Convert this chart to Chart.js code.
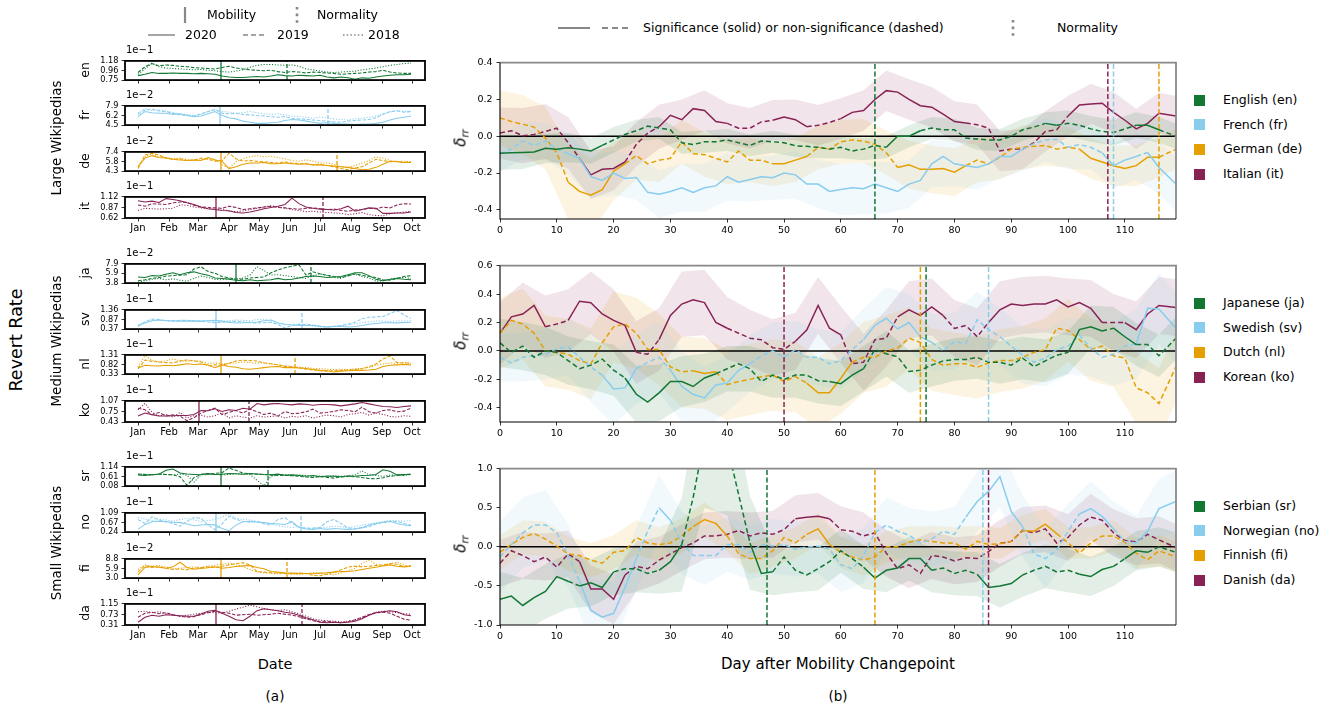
<!DOCTYPE html>
<html><head><meta charset="utf-8">
<script src="https://cdn.jsdelivr.net/npm/chart.js@4.4.1/dist/chart.umd.min.js"></script>
<style>
body{margin:0;width:1331px;height:710px;background:#fff;position:relative;overflow:hidden;font-family:"DejaVu Sans",sans-serif;color:#000}
.box{position:absolute}
.t{position:absolute;white-space:nowrap;line-height:1}
.c{transform:translate(-50%,-50%)}
.r{transform:translate(-50%,-50%) rotate(-90deg)}
.m{transform:translateY(-50%)}
.sq{position:absolute;width:11px;height:11px}
</style></head><body>
<script>
// ---------------- DATA ----------------
const leftDays=[0,7,14,21,28,35,42,49,56,63,70,77,84,91,98,105,112,119,126,133,140,147,154,161,168,175,182,189,196,203,210,217,224,231,238,245,252,259,266,273];
const monthTickDays=[0,31,60,91,121,152,182,213,244,274];
const monthLabels=['Jan','Feb','Mar','Apr','May','Jun','Jul','Aug','Sep','Oct'];

const en2020=[0.85,0.88,0.92,0.90,0.90,0.91,0.90,0.90,0.89,0.90,0.89,0.88,0.84,0.82,0.81,0.81,0.82,0.83,0.82,0.84,0.87,0.85,0.84,0.86,0.85,0.84,0.86,0.82,0.80,0.82,0.80,0.77,0.80,0.79,0.82,0.84,0.86,0.87,0.87,0.88];
const en2019=[0.92,1.05,1.12,1.07,1.09,1.08,1.06,1.05,1.03,1.02,1.01,1.00,1.03,1.06,1.02,1.00,0.98,0.97,0.96,0.97,0.94,0.92,0.94,0.93,0.91,0.93,0.92,0.91,0.90,0.88,0.89,0.90,0.91,0.93,0.94,0.97,0.93,0.91,0.90,0.90];
const en2018=[0.88,1.00,1.13,1.05,1.02,1.01,1.00,0.99,0.98,0.99,0.97,0.96,0.94,0.93,0.95,0.98,1.04,1.08,1.10,1.10,1.09,1.08,1.09,1.06,1.00,0.98,0.95,0.93,0.92,0.93,0.94,0.95,0.98,1.00,1.02,1.05,1.08,1.10,1.12,1.13];
const fr2020=[6.0,6.9,6.7,6.6,6.6,6.4,6.5,6.2,6.0,6.1,6.5,6.9,6.2,5.8,5.6,5.2,5.0,4.8,4.8,4.9,5.0,5.3,5.5,5.4,5.2,5.0,4.8,4.9,4.8,4.7,4.7,4.6,4.7,4.7,4.8,5.0,5.4,5.7,5.9,6.1];
const fr2019=[6.4,7.2,7.3,7.0,6.9,6.6,6.3,6.2,6.1,6.5,6.9,7.3,6.6,6.5,6.6,6.4,6.3,6.2,6.1,6.0,5.9,6.0,5.7,5.6,5.5,5.4,5.3,5.2,5.1,5.0,5.2,5.3,5.4,5.5,5.8,6.4,6.9,7.0,6.8,6.9];
const fr2018=[6.7,7.4,7.1,7.2,7.0,6.7,6.5,6.4,6.2,6.4,6.9,7.2,6.9,6.8,6.6,6.7,6.9,6.7,6.5,6.4,6.5,6.3,6.1,6.0,5.9,5.7,5.9,5.8,5.6,5.5,5.4,5.6,5.7,5.9,6.1,6.5,6.8,7.1,6.9,7.0];
const de2020=[5.0,6.4,6.8,6.5,6.4,6.2,6.1,6.0,6.1,6.0,6.5,6.1,5.9,4.7,5.0,5.4,5.6,5.6,5.7,5.5,5.5,5.6,5.5,5.4,5.5,5.3,5.3,5.2,5.1,5.0,4.9,4.7,4.5,4.6,4.9,5.4,5.9,5.8,5.7,5.7];
const de2019=[4.7,6.9,7.2,6.9,6.4,6.2,6.3,6.0,6.1,6.4,6.2,5.9,6.0,7.2,6.3,5.9,6.0,5.9,5.8,5.7,5.6,5.8,5.6,5.5,5.5,5.3,5.4,5.2,5.0,4.7,4.5,4.8,5.0,5.6,6.2,6.0,5.8,5.9,5.7,5.8];
const de2018=[5.1,6.6,7.1,6.6,6.5,6.3,6.4,6.2,6.0,6.1,6.3,6.2,5.3,4.8,5.8,6.3,6.6,6.8,6.6,6.7,6.5,6.3,6.0,5.9,6.1,5.9,5.6,5.6,5.4,5.0,4.9,5.2,5.6,6.0,6.6,6.4,6.0,5.8,5.9,5.8];
const it2020=[1.03,1.00,1.02,0.99,1.08,1.06,1.03,0.98,0.94,0.88,0.84,0.82,0.80,0.79,0.75,0.74,0.76,0.80,0.84,0.87,0.90,0.94,1.09,0.96,0.88,0.85,0.83,0.82,0.81,0.84,0.90,0.78,0.82,0.86,0.85,0.73,0.73,0.74,0.74,0.76];
const it2019=[0.93,0.90,0.96,0.95,0.94,0.98,1.00,0.99,0.92,0.88,0.87,0.86,0.85,0.90,0.87,0.82,0.84,0.86,0.88,0.90,0.87,0.86,0.84,0.83,0.85,0.86,0.84,0.82,0.83,0.80,0.78,0.81,0.82,0.85,0.84,0.88,0.86,0.93,0.96,0.95];
const it2018=[0.80,0.85,0.84,0.83,0.84,0.85,0.93,0.92,0.88,0.86,0.84,0.82,0.84,0.78,0.77,0.79,0.82,0.85,0.88,0.91,0.88,0.85,0.82,0.80,0.77,0.78,0.76,0.75,0.74,0.73,0.70,0.72,0.75,0.70,0.68,0.67,0.72,0.74,0.76,0.78];
const ja2020=[5.1,5.0,5.4,5.3,5.7,6.0,5.6,6.0,6.2,5.8,5.5,4.9,4.8,4.6,4.4,4.3,4.5,4.3,4.4,4.5,4.8,4.5,4.6,4.9,5.2,5.3,5.2,5.0,5.1,5.2,5.6,6.0,6.0,5.4,4.6,4.3,4.6,4.8,4.6,4.5];
const ja2019=[4.3,4.5,4.8,5.0,5.3,5.4,5.5,5.6,6.8,7.3,6.3,5.9,5.2,4.9,4.7,4.6,4.9,5.0,5.1,6.0,6.6,7.1,7.4,7.7,5.5,6.2,5.8,5.5,5.2,5.0,5.3,5.8,5.5,5.2,5.0,4.5,4.4,4.8,5.2,5.4];
const ja2018=[4.0,4.3,4.6,4.8,4.5,4.7,4.4,4.2,4.8,5.3,5.0,4.6,4.5,4.8,4.6,4.9,5.5,7.3,6.5,5.5,5.6,5.4,5.2,5.0,4.8,5.3,5.8,5.4,5.0,4.8,5.4,5.7,5.2,4.9,4.2,4.3,4.6,4.9,5.0,4.8];
const sv2020=[0.57,0.68,0.80,0.84,0.81,0.80,0.78,0.78,0.79,0.78,0.80,0.82,0.78,0.72,0.68,0.70,0.72,0.74,0.80,0.84,0.70,0.62,0.58,0.56,0.55,0.56,0.52,0.48,0.50,0.52,0.48,0.50,0.55,0.62,0.66,0.70,0.70,0.69,0.71,0.72];
const sv2019=[0.50,0.75,0.89,0.86,0.80,0.78,0.82,0.82,0.80,0.78,0.74,0.70,0.72,0.74,0.78,0.74,0.70,0.68,0.70,0.72,0.60,0.43,0.56,0.60,0.62,0.58,0.52,0.48,0.52,0.56,0.62,0.72,0.90,0.98,1.00,1.02,1.18,1.32,1.10,0.92];
const sv2018=[0.56,0.72,0.80,0.82,0.80,0.78,0.80,0.82,0.80,0.78,0.82,0.80,0.78,0.80,0.84,0.82,0.80,0.86,0.88,0.80,0.65,0.60,0.62,0.64,0.58,0.52,0.48,0.46,0.50,0.55,0.58,0.64,0.70,0.74,0.80,0.78,0.76,0.80,0.78,0.80];
const nl2020=[0.64,0.78,0.76,0.74,0.78,0.76,0.80,0.86,0.82,0.85,0.80,0.66,0.80,0.72,0.68,0.60,0.58,0.62,0.66,0.70,0.72,0.66,0.66,0.64,0.62,0.56,0.52,0.50,0.44,0.48,0.50,0.52,0.52,0.54,0.58,0.72,0.78,0.80,0.82,0.80];
const nl2019=[0.60,1.05,0.98,0.95,0.92,0.90,1.00,1.05,1.00,0.95,0.75,0.80,0.78,0.88,1.00,1.04,1.02,1.00,0.90,0.86,0.80,0.72,0.70,0.66,0.58,0.54,0.50,0.48,0.50,0.52,0.54,0.56,0.60,0.70,0.85,1.10,1.25,0.92,0.90,0.88];
const nl2018=[0.70,1.28,1.05,0.95,1.00,1.10,1.02,0.98,1.02,0.98,0.88,0.90,0.86,0.88,0.90,0.95,0.92,0.88,0.92,0.85,0.80,0.76,0.72,0.68,0.66,0.62,0.60,0.58,0.56,0.58,0.56,0.60,0.62,0.68,0.78,0.85,0.90,0.88,0.92,0.90];
const ko2020=[0.61,0.70,0.65,0.61,0.61,0.62,0.63,0.63,0.66,0.78,0.77,0.83,0.75,0.80,0.78,0.85,0.82,0.99,0.95,0.98,0.99,0.97,0.95,0.98,0.97,0.94,0.96,0.96,0.95,0.92,0.95,0.98,1.02,0.98,0.94,0.90,0.89,0.87,0.90,0.92];
const ko2019=[0.85,0.80,0.65,0.72,0.61,0.65,0.61,0.47,0.56,0.70,0.78,0.85,0.65,0.72,0.78,0.70,0.82,0.74,0.66,0.70,0.61,0.75,0.68,0.70,0.74,0.82,0.70,0.72,0.75,0.80,0.78,0.74,0.88,0.74,0.70,0.78,0.80,0.74,0.76,0.85];
const ko2018=[0.80,1.00,0.72,0.62,0.66,0.58,0.72,0.55,0.62,0.64,0.58,0.62,0.72,0.55,0.62,0.58,0.55,0.62,0.58,0.60,0.62,0.55,0.60,0.58,0.62,0.55,0.60,0.64,0.62,0.58,0.66,0.68,0.72,0.64,0.70,0.66,0.60,0.58,0.62,0.60];
const sr2020=[0.70,0.67,0.72,0.74,0.95,1.02,0.80,0.75,0.72,0.74,0.77,0.72,0.74,0.78,0.76,0.74,0.78,0.75,0.72,0.70,0.74,0.68,0.70,0.66,0.62,0.66,0.60,0.64,0.62,0.60,0.64,0.62,0.66,0.68,0.72,0.98,0.90,0.70,0.72,0.74];
const sr2019=[0.75,0.72,0.70,0.74,0.72,0.70,0.60,0.12,0.55,0.72,0.74,0.78,0.82,1.08,0.95,0.80,0.76,0.74,0.72,0.70,0.66,0.68,0.65,0.62,0.58,0.55,0.60,0.56,0.52,0.58,0.62,0.60,0.55,0.50,0.48,0.54,0.62,0.66,0.70,0.74];
const sr2018=[0.72,0.74,0.70,0.76,0.72,0.70,0.74,0.68,0.30,0.70,0.72,0.74,0.70,0.72,0.76,0.74,0.72,0.40,0.10,0.62,0.70,0.72,0.68,0.70,0.66,0.62,0.64,0.60,0.66,0.62,0.64,0.70,0.92,0.70,0.66,0.62,0.68,0.70,0.66,0.72];
const no2020=[0.36,0.58,0.70,0.72,0.70,0.68,0.66,0.60,0.52,0.55,0.58,0.56,0.40,0.30,0.55,0.70,0.72,0.68,0.66,0.62,0.60,0.58,0.70,0.45,0.38,0.36,0.40,0.36,0.40,0.38,0.36,0.38,0.42,0.55,0.62,0.68,0.72,0.62,0.55,0.52];
const no2019=[0.80,0.62,0.92,0.78,0.70,0.62,0.50,0.72,0.88,0.85,0.55,0.35,0.60,0.95,0.80,0.72,0.68,0.72,0.60,0.55,0.80,0.88,0.62,0.48,0.40,0.42,0.45,0.70,0.80,0.62,0.42,0.40,0.45,0.48,0.60,0.66,0.70,0.72,0.62,0.55];
const no2018=[0.90,0.82,0.75,0.80,0.78,0.72,0.80,0.84,0.78,0.70,0.75,0.80,0.90,1.05,0.85,0.80,0.78,0.72,0.65,0.60,0.52,0.48,0.45,0.48,0.42,0.40,0.44,0.46,0.50,0.48,0.44,0.48,0.55,0.60,0.66,0.70,0.76,0.74,0.72,0.74];
const fi2020=[4.0,6.2,6.5,6.3,6.0,6.4,7.8,6.2,5.7,5.9,6.1,6.4,6.0,6.2,6.5,6.7,6.8,6.2,5.8,5.0,4.8,4.6,4.5,4.4,4.4,4.3,4.5,4.6,4.8,5.0,5.0,5.2,5.6,6.0,6.3,6.7,7.0,6.6,6.4,6.6];
const fi2019=[4.8,6.8,6.2,6.4,6.0,5.6,5.8,5.5,6.0,6.2,6.4,6.2,6.6,7.0,7.4,7.6,7.0,5.0,4.8,4.6,4.5,4.4,4.3,4.6,4.4,3.8,3.7,4.2,4.8,5.5,6.3,6.6,6.4,6.6,6.8,7.0,7.4,7.2,6.5,6.8];
const fi2018=[5.6,7.0,6.6,6.8,6.4,5.8,6.0,6.2,6.4,6.2,6.6,6.9,7.2,7.5,7.0,6.5,5.6,4.9,4.6,4.4,4.3,4.4,4.2,4.0,4.3,4.7,4.4,4.2,4.0,4.5,5.2,6.0,7.4,8.4,7.2,6.8,7.4,7.8,7.0,6.4];
const da2020=[0.42,0.62,0.70,0.66,0.72,0.70,0.68,0.66,0.66,0.75,0.86,0.90,0.78,0.66,0.52,0.48,0.66,0.88,0.96,0.92,0.88,0.82,0.78,0.70,0.60,0.52,0.42,0.40,0.42,0.40,0.42,0.46,0.56,0.70,0.80,0.84,0.88,0.84,0.72,0.68];
const da2019=[0.62,0.78,0.82,0.76,0.80,0.72,0.66,0.62,0.64,0.72,0.80,0.86,0.82,0.78,0.70,0.72,0.74,0.70,0.72,0.74,0.78,0.74,0.70,0.64,0.56,0.48,0.44,0.46,0.42,0.40,0.44,0.52,0.62,0.72,0.80,0.82,0.78,0.66,0.54,0.50];
const da2018=[0.84,0.86,0.80,0.84,0.76,0.72,0.66,0.70,0.74,0.78,0.82,0.80,0.78,0.86,0.94,1.02,1.10,1.04,0.96,0.92,0.88,0.92,0.84,0.76,0.66,0.56,0.50,0.48,0.46,0.44,0.46,0.50,0.60,0.72,0.82,0.86,0.84,0.80,0.76,0.74];

// y tick values / labels of the left panels (values shown in units of the exponent)
const enTicks=[0.75,0.96,1.18], enTickLabels=['0.75','0.96','1.18'];
const frTicks=[4.5,6.2,7.9],   frTickLabels=['4.5','6.2','7.9'];
const deTicks=[4.3,5.8,7.4],   deTickLabels=['4.3','5.8','7.4'];
const itTicks=[0.62,0.87,1.12], itTickLabels=['0.62','0.87','1.12'];
const jaTicks=[3.8,5.9,7.9],   jaTickLabels=['3.8','5.9','7.9'];
const svTicks=[0.37,0.87,1.36], svTickLabels=['0.37','0.87','1.36'];
const nlTicks=[0.33,0.82,1.31], nlTickLabels=['0.33','0.82','1.31'];
const koTicks=[0.43,0.75,1.07], koTickLabels=['0.43','0.75','1.07'];
const srTicks=[0.08,0.61,1.14], srTickLabels=['0.08','0.61','1.14'];
const noTicks=[0.24,0.67,1.09], noTickLabels=['0.24','0.67','1.09'];
const fiTicks=[3.0,5.9,8.8],   fiTickLabels=['3.0','5.9','8.8'];
const daTicks=[0.31,0.73,1.15], daTickLabels=['0.31','0.73','1.15'];
const exponents={en:'1e\u22121',fr:'1e\u22122',de:'1e\u22122',it:'1e\u22121',ja:'1e\u22122',sv:'1e\u22121',nl:'1e\u22121',ko:'1e\u22121',sr:'1e\u22121',no:'1e\u22121',fi:'1e\u22122',da:'1e\u22121'};

// change points (day of year 2020, 0 = Jan 1) and normality (days after mobility change point)
const mobilityDay={en:83,fr:82,de:83,it:78,ja:98,sv:78,nl:83,ko:61,sr:83,no:78,fi:83,da:78};
const normalityAfter={en:66,fr:108,de:116,it:107,ja:75,sv:86,nl:74,ko:50,sr:47,no:85,fi:66,da:86};

// right panels: delta_rr per day after mobility change point
const rightDays=[0,2,4,6,8,10,12,14,16,18,20,22,24,26,28,30,32,34,36,38,40,42,44,46,48,50,52,54,56,58,60,62,64,66,68,70,72,74,76,78,80,82,84,86,88,90,92,94,96,98,100,102,104,106,108,110,112,114,116,119];
const bandDays=[0,4,8,12,16,20,24,28,32,36,40,44,48,52,56,60,64,68,72,76,80,84,88,92,96,100,104,108,112,116,119];
const dayTicks=[0,10,20,30,40,50,60,70,80,90,100,110];

const enDelta=[-0.093,-0.09,-0.088,-0.085,-0.065,-0.07,-0.062,-0.07,-0.08,-0.05,-0.02,0.01,0.03,0.055,0.045,0.035,-0.035,-0.045,-0.03,-0.03,-0.02,-0.035,-0.05,-0.026,-0.03,-0.035,-0.052,-0.055,-0.06,-0.07,-0.06,-0.08,-0.07,-0.05,-0.06,0.0,0.0,0.03,0.045,0.035,0.035,-0.01,-0.015,-0.02,-0.02,0.0,0.035,0.05,0.07,0.06,0.07,0.06,0.04,0.026,0.02,0.04,0.06,0.06,0.035,0.0];
const frDelta=[-0.093,-0.07,-0.025,-0.05,-0.026,-0.07,-0.095,-0.12,-0.22,-0.24,-0.2,-0.23,-0.225,-0.305,-0.315,-0.30,-0.28,-0.305,-0.28,-0.27,-0.22,-0.25,-0.235,-0.22,-0.225,-0.2,-0.21,-0.26,-0.26,-0.3,-0.29,-0.28,-0.285,-0.26,-0.28,-0.30,-0.26,-0.24,-0.15,-0.11,-0.15,-0.16,-0.17,-0.15,-0.11,-0.11,-0.07,-0.04,-0.02,-0.017,-0.06,-0.045,-0.06,-0.09,-0.16,-0.13,-0.11,-0.088,-0.17,-0.26];
const deDelta=[0.10,0.08,0.065,0.05,-0.01,-0.09,-0.25,-0.3,-0.32,-0.29,-0.19,-0.15,-0.105,-0.15,-0.13,-0.12,-0.03,-0.095,-0.1,-0.12,-0.14,-0.08,-0.13,-0.13,-0.15,-0.15,-0.13,-0.11,-0.06,-0.07,-0.03,-0.02,-0.026,-0.044,-0.09,-0.17,-0.155,-0.18,-0.18,-0.175,-0.195,-0.16,-0.13,-0.15,-0.114,-0.07,-0.06,-0.055,-0.05,-0.07,-0.06,-0.07,-0.12,-0.14,-0.16,-0.175,-0.16,-0.114,-0.114,-0.07];
const itDelta=[0.017,0.03,0.003,0.01,0.026,0.044,-0.035,-0.12,-0.21,-0.18,-0.175,-0.14,-0.044,0.017,0.052,0.114,0.09,0.15,0.14,0.08,0.07,0.044,0.044,0.078,0.087,0.105,0.09,0.052,0.06,0.075,0.096,0.13,0.14,0.2,0.248,0.24,0.2,0.166,0.158,0.12,0.08,0.072,0.063,0.044,-0.08,-0.07,-0.07,-0.035,0.026,0.035,0.11,0.17,0.176,0.18,0.13,0.087,0.04,0.07,0.125,0.11];
const jaDelta=[0.057,-0.01,0.034,-0.045,0.0,-0.01,-0.068,-0.125,-0.1,-0.057,-0.135,-0.19,-0.305,-0.36,-0.295,-0.215,-0.215,-0.25,-0.19,-0.16,-0.125,-0.09,-0.125,-0.215,-0.17,-0.2,-0.17,-0.17,-0.21,-0.215,-0.23,-0.17,-0.125,0.01,-0.02,-0.04,-0.145,-0.135,-0.1,-0.07,-0.06,-0.06,-0.045,-0.08,-0.08,-0.1,-0.05,-0.11,-0.07,-0.03,-0.01,0.15,0.17,0.14,0.16,0.1,0.045,0.045,-0.034,0.09];
const svDelta=[-0.045,-0.084,-0.045,-0.034,-0.023,0.016,0.03,-0.045,-0.113,-0.17,-0.267,-0.26,-0.125,-0.08,-0.045,-0.136,-0.25,-0.305,-0.33,-0.24,-0.226,-0.136,-0.09,-0.034,0.0,-0.045,0.01,-0.045,-0.045,-0.09,-0.068,0.01,0.08,0.18,0.23,0.155,0.2,0.1,0.06,0.0,0.068,0.05,0.22,0.15,0.1,0.034,-0.03,-0.08,-0.05,0.01,0.034,0.11,0.02,-0.045,-0.023,0.034,0.05,0.3,0.295,0.16];
const nlDelta=[0.125,0.215,0.19,0.125,0.0,-0.011,-0.023,-0.068,-0.09,0.057,0.17,0.19,0.125,0.011,0.011,-0.113,-0.147,-0.14,-0.158,-0.147,-0.237,-0.215,-0.2,-0.181,-0.17,-0.215,-0.181,-0.226,-0.294,-0.294,-0.192,-0.079,-0.045,-0.045,0.0,0.02,0.09,0.06,-0.06,-0.1,-0.09,-0.09,-0.115,-0.085,-0.068,-0.068,-0.045,-0.01,0.01,0.16,0.145,0.08,0.01,0.034,-0.034,-0.05,-0.26,-0.294,-0.37,-0.11];
const koDelta=[0.125,0.24,0.26,0.32,0.17,0.19,0.215,0.35,0.34,0.26,0.215,0.18,-0.01,-0.023,0.08,0.25,0.33,0.36,0.34,0.2,0.16,0.125,0.09,0.079,0.023,0.011,0.068,0.147,0.32,0.16,0.113,-0.09,-0.079,0.079,0.09,0.24,0.29,0.25,0.31,0.25,0.158,0.18,0.1,0.2,0.29,0.33,0.32,0.33,0.33,0.36,0.31,0.34,0.3,0.2,0.2,0.2,0.15,0.26,0.32,0.305];
const srDelta=[-0.67,-0.63,-0.75,-0.65,-0.57,-0.38,-0.44,-0.5,-0.46,-0.52,-0.32,-0.28,-0.28,-0.34,-0.3,-0.19,0.03,0.63,1.4,1.6,1.3,0.67,0.05,-0.34,-0.32,-0.13,-0.3,-0.36,-0.28,-0.19,-0.05,-0.15,-0.26,-0.4,-0.3,-0.27,-0.15,-0.15,-0.3,-0.27,-0.34,-0.3,-0.35,-0.52,-0.5,-0.47,-0.36,-0.3,-0.25,-0.32,-0.3,-0.35,-0.38,-0.29,-0.25,-0.15,-0.05,-0.07,0.0,-0.07];
const noDelta=[-0.13,0.03,0.18,0.28,0.28,0.18,-0.11,-0.44,-0.81,-0.9,-0.85,-0.52,-0.15,0.2,0.5,0.34,0.05,-0.11,-0.11,-0.11,0.03,0.03,-0.07,0.03,0.01,0.03,-0.03,0.0,0.01,-0.03,-0.23,-0.28,-0.11,0.18,0.28,0.2,0.15,0.05,0.1,0.2,0.16,0.38,0.58,0.71,0.9,0.45,0.26,-0.09,-0.15,-0.04,0.2,0.42,0.49,0.39,0.23,0.07,0.05,0.2,0.49,0.58];
const fiDelta=[-0.07,0.03,0.12,0.17,0.1,0.01,-0.09,-0.11,-0.17,-0.21,-0.07,-0.05,0.12,0.05,0.03,0.05,0.14,0.26,0.35,0.3,0.14,-0.09,-0.15,-0.15,-0.05,0.12,0.05,0.16,0.23,0.03,-0.07,-0.13,-0.17,-0.13,0.0,0.0,0.06,0.09,0.07,0.05,0.05,-0.03,0.07,0.03,0.04,0.07,0.21,0.2,0.29,0.17,0.05,-0.08,0.05,0.14,0.14,0.06,-0.08,-0.165,-0.05,-0.13];
const daDelta=[-0.21,-0.05,-0.11,-0.19,-0.13,-0.26,-0.09,-0.19,-0.54,-0.54,-0.67,-0.36,-0.25,-0.28,-0.17,-0.09,-0.01,0.05,0.14,0.14,0.16,0.21,0.14,0.18,0.16,0.22,0.36,0.38,0.39,0.36,0.22,0.2,0.14,0.18,-0.08,-0.28,-0.23,-0.34,-0.11,-0.13,-0.18,-0.14,-0.15,-0.06,0.045,0.07,0.21,0.18,0.23,0.05,0.12,0.28,0.38,0.34,0.18,0.08,0.065,0.16,0.09,-0.01];

// confidence band half-widths at bandDays
const enBand=[0.09,0.09,0.08,0.08,0.07,0.07,0.06,0.06,0.06,0.06,0.06,0.06,0.06,0.06,0.06,0.06,0.06,0.06,0.06,0.06,0.06,0.06,0.06,0.06,0.06,0.07,0.07,0.07,0.07,0.07,0.07];
const frBand=[0.10,0.10,0.10,0.11,0.12,0.12,0.12,0.13,0.13,0.13,0.13,0.12,0.12,0.13,0.13,0.14,0.14,0.14,0.13,0.13,0.12,0.12,0.12,0.12,0.12,0.12,0.12,0.12,0.13,0.14,0.15];
const deBand=[0.15,0.16,0.17,0.20,0.20,0.16,0.13,0.12,0.12,0.12,0.12,0.12,0.12,0.12,0.12,0.12,0.12,0.12,0.13,0.13,0.13,0.12,0.12,0.12,0.11,0.11,0.11,0.11,0.11,0.11,0.11];
const itBand=[0.14,0.15,0.15,0.14,0.13,0.12,0.12,0.12,0.11,0.11,0.11,0.11,0.11,0.11,0.11,0.11,0.11,0.11,0.11,0.11,0.11,0.11,0.11,0.11,0.11,0.11,0.11,0.11,0.11,0.11,0.11];
const jaBand=[0.17,0.17,0.17,0.17,0.17,0.18,0.2,0.2,0.18,0.17,0.16,0.16,0.16,0.16,0.16,0.16,0.16,0.16,0.15,0.15,0.15,0.15,0.15,0.15,0.15,0.15,0.15,0.15,0.15,0.15,0.15];
const svBand=[0.17,0.17,0.18,0.2,0.25,0.25,0.25,0.25,0.25,0.22,0.2,0.2,0.2,0.2,0.2,0.2,0.22,0.22,0.2,0.2,0.2,0.2,0.2,0.2,0.2,0.2,0.2,0.22,0.25,0.25,0.25];
const nlBand=[0.25,0.25,0.25,0.25,0.25,0.25,0.25,0.25,0.25,0.25,0.25,0.25,0.25,0.25,0.25,0.25,0.25,0.25,0.22,0.22,0.22,0.22,0.22,0.22,0.22,0.22,0.22,0.22,0.25,0.25,0.25];
const koBand=[0.22,0.22,0.22,0.22,0.22,0.22,0.22,0.22,0.23,0.23,0.22,0.2,0.2,0.2,0.2,0.2,0.2,0.2,0.2,0.2,0.2,0.2,0.2,0.2,0.2,0.2,0.2,0.2,0.2,0.2,0.2];
const srBand=[0.35,0.35,0.35,0.35,0.3,0.3,0.3,0.3,0.6,0.9,0.9,0.6,0.3,0.28,0.28,0.28,0.28,0.28,0.28,0.28,0.28,0.28,0.28,0.28,0.28,0.28,0.25,0.25,0.25,0.25,0.25];
const noBand=[0.45,0.45,0.45,0.4,0.4,0.4,0.4,0.42,0.4,0.38,0.35,0.35,0.35,0.35,0.35,0.35,0.35,0.35,0.35,0.35,0.35,0.38,0.4,0.4,0.38,0.35,0.35,0.35,0.35,0.38,0.4];
const fiBand=[0.22,0.22,0.22,0.22,0.22,0.22,0.22,0.22,0.22,0.22,0.2,0.2,0.2,0.2,0.2,0.2,0.2,0.2,0.2,0.2,0.2,0.2,0.2,0.2,0.2,0.2,0.2,0.2,0.2,0.2,0.2];
const daBand=[0.3,0.3,0.3,0.3,0.3,0.32,0.32,0.3,0.3,0.3,0.3,0.3,0.3,0.3,0.3,0.3,0.3,0.3,0.3,0.3,0.3,0.3,0.3,0.3,0.3,0.3,0.3,0.3,0.3,0.3,0.3];

// significant (solid) day ranges
const enSig=[[0,17],[69,74],[96,98],[112,115]];
const frSig=[[13,92],[106,112],[115,119]];
const deSig=[[12,21],[49,53],[71,82],[102,116]];
const itSig=[[15,22],[29,33],[34,39],[48,53],[60,82],[100,119]];
const jaSig=[[22,38],[59,63],[100,106],[108,111]];
const svSig=[[18,23],[30,44],[64,75],[113,119]];
const nlSig=[[35,37],[54,61]];
const koSig=[[0,7],[12,23],[29,39],[53,59],[70,78],[86,106],[111,119]];
const srSig=[[0,11],[14,19],[28,32],[44,47],[65,75],[85,92],[102,107],[111,113]];
const noSig=[[14,23],[28,30],[82,91],[102,108],[113,119]];
const fiSig=[[34,40],[54,57],[92,97]];
const daSig=[[15,22],[52,58]];

const names={en:'English (en)',fr:'French (fr)',de:'German (de)',it:'Italian (it)',ja:'Japanese (ja)',sv:'Swedish (sv)',nl:'Dutch (nl)',ko:'Korean (ko)',sr:'Serbian (sr)',no:'Norwegian (no)',fi:'Finnish (fi)',da:'Danish (da)'};
</script>
<script>
// ---------------- DRAWING ----------------
const FONT='"DejaVu Sans", sans-serif';
const GREEN='#117733', BLUE='#88CCEE', ORANGE='#E69F00', WINE='#882255';
const RGB={[GREEN]:'17,119,51',[BLUE]:'136,204,238',[ORANGE]:'230,159,0',[WINE]:'136,34,85'};
const COL={en:GREEN,fr:BLUE,de:ORANGE,it:WINE,ja:GREEN,sv:BLUE,nl:ORANGE,ko:WINE,sr:GREEN,no:BLUE,fi:ORANGE,da:WINE};
const LEFT={
 en:[en2020,en2019,en2018,enTicks,enTickLabels], fr:[fr2020,fr2019,fr2018,frTicks,frTickLabels],
 de:[de2020,de2019,de2018,deTicks,deTickLabels], it:[it2020,it2019,it2018,itTicks,itTickLabels],
 ja:[ja2020,ja2019,ja2018,jaTicks,jaTickLabels], sv:[sv2020,sv2019,sv2018,svTicks,svTickLabels],
 nl:[nl2020,nl2019,nl2018,nlTicks,nlTickLabels], ko:[ko2020,ko2019,ko2018,koTicks,koTickLabels],
 sr:[sr2020,sr2019,sr2018,srTicks,srTickLabels], no:[no2020,no2019,no2018,noTicks,noTickLabels],
 fi:[fi2020,fi2019,fi2018,fiTicks,fiTickLabels], da:[da2020,da2019,da2018,daTicks,daTickLabels]};
const RIGHT={en:[enDelta,enBand,enSig],fr:[frDelta,frBand,frSig],de:[deDelta,deBand,deSig],it:[itDelta,itBand,itSig],
 ja:[jaDelta,jaBand,jaSig],sv:[svDelta,svBand,svSig],nl:[nlDelta,nlBand,nlSig],ko:[koDelta,koBand,koSig],
 sr:[srDelta,srBand,srSig],no:[noDelta,noBand,noSig],fi:[fiDelta,fiBand,fiSig],da:[daDelta,daBand,daSig]};

Chart.defaults.font.family=FONT;
Chart.defaults.color='#000';

function makeBox(l,t,w,h){const d=document.createElement('div');d.className='box';d.style.cssText=`left:${l}px;top:${t}px;width:${w}px;height:${h}px`;const c=document.createElement('canvas');d.appendChild(c);document.body.appendChild(d);return c;}
function text(str,x,y,size,cls,extra){const d=document.createElement('div');d.className='t '+cls;d.style.cssText=`left:${x}px;top:${y}px;font-size:${size}px;${extra||''}`;d.innerHTML=str;document.body.appendChild(d);return d;}

const leftFrame={id:'leftFrame',afterDatasetsDraw(ch){const a=ch.chartArea,c=ch.ctx;c.save();c.strokeStyle='#000';c.lineWidth=1.8;c.strokeRect(a.left,a.top,a.right-a.left,a.bottom-a.top);c.restore();}};
const rightFrame={id:'rightFrame',afterDatasetsDraw(ch){const a=ch.chartArea,c=ch.ctx;c.save();
 c.strokeStyle='#888';c.lineWidth=1.8;c.beginPath();c.moveTo(a.left,a.top);c.lineTo(a.right,a.top);c.lineTo(a.right,a.bottom);c.stroke();
 c.strokeStyle='#000';c.lineWidth=1.1;c.beginPath();c.moveTo(a.left,a.top);c.lineTo(a.left,a.bottom);c.lineTo(a.right,a.bottom);c.stroke();c.restore();}};

function leftChart(code,plotTop,showX){
 const [y20,y19,y18,ticks,tickLabels]=LEFT[code], col=COL[code];
 const padT=4,padR=4,yW=50,xH=showX?22:6,plotL=125,plotW=300,plotH=25;
 const cv=makeBox(plotL-yW,plotTop-padT,yW+plotW+padR,padT+plotH+xH);
 const yMin=ticks[0], yMax=ticks[2];
 const mob=mobilityDay[code], nor=mobilityDay[code]+normalityAfter[code];
 const line=(arr,dash)=>({data:leftDays.map((d,i)=>({x:d,y:arr[i]})),borderColor:col,borderWidth:1.05,borderDash:dash,pointRadius:0,tension:0,fill:false});
 new Chart(cv,{type:'line',data:{datasets:[
   line(y20,[]),line(y19,[3.5,1.6]),line(y18,[1.1,1.7]),
   {data:[{x:mob,y:yMin},{x:mob,y:yMax}],borderColor:col,borderWidth:1.3,pointRadius:0},
   {data:[{x:nor,y:yMin},{x:nor,y:yMax}],borderColor:col,borderWidth:1.3,borderDash:[4,2],pointRadius:0}
 ]},options:{animation:false,responsive:true,maintainAspectRatio:false,events:[],
   layout:{padding:{top:padT,right:padR,left:0,bottom:0}},
   plugins:{legend:{display:false},tooltip:{enabled:false}},
   scales:{
    x:{type:'linear',min:-13,max:287,afterBuildTicks:s=>{s.ticks=monthTickDays.map(v=>({value:v}));},afterFit:s=>{s.height=xH;},
       ticks:{autoSkip:false,maxRotation:0,padding:1,font:{size:10},callback:(v,i)=>showX?monthLabels[i]:''},
       grid:{drawOnChartArea:false,drawTicks:true,tickLength:3.5,color:'#000',lineWidth:0.8},border:{display:false}},
    y:{type:'linear',min:yMin,max:yMax,afterBuildTicks:s=>{s.ticks=ticks.map(v=>({value:v}));},afterFit:s=>{s.width=yW;},
       ticks:{autoSkip:false,padding:3,font:{size:8.2},callback:(v,i)=>tickLabels[i]},
       grid:{drawOnChartArea:false,drawTicks:true,tickLength:3.5,color:'#000',lineWidth:0.8},border:{display:false}}
   }},plugins:[leftFrame]});
 text(exponents[code],126,plotTop-7,10,'m');
 text(code,85,plotTop+plotH/2,12.5,'r');
}

function inRanges(r,x){for(const [a,b] of r){if(x>=a&&x<=b)return true;}return false;}

function rightChart(plotTop,yMin,yMax,yTicks,codes){
 const padT=4,padR=4,yW=40,xH=22,plotL=500,plotW=676,plotH=162;
 const cv=makeBox(plotL-yW,plotTop-padT,yW+plotW+padR,padT+plotH+xH);
 const ds=[];
 codes.forEach(code=>{const [vals,,sig]=RIGHT[code];
  ds.push({data:rightDays.map((d,i)=>({x:d,y:vals[i]})),borderColor:COL[code],borderWidth:1.5,pointRadius:0,tension:0,fill:false,order:1,
   segment:{borderDash:ctx=>inRanges(sig,(ctx.p0.parsed.x+ctx.p1.parsed.x)/2)?[]:[5,3]}});});
 ds.push({data:[{x:0,y:0},{x:119,y:0}],borderColor:'#000',borderWidth:1.5,pointRadius:0,order:2});
 codes.forEach(code=>{const n=normalityAfter[code];
  ds.push({data:[{x:n,y:yMin},{x:n,y:yMax}],borderColor:COL[code],borderWidth:1.5,borderDash:[5,2.5],pointRadius:0,order:0});});
 codes.forEach(code=>{const [vals,band]=RIGHT[code];const rgb=RGB[COL[code]];
  const up=bandDays.map((d,k)=>({x:d,y:vals[rightDays.indexOf(d)]+band[k]}));
  const lo=bandDays.map((d,k)=>({x:d,y:vals[rightDays.indexOf(d)]-band[k]}));
  ds.push({data:up,borderWidth:0,borderColor:'rgba(0,0,0,0)',pointRadius:0,fill:false,order:3});
  ds.push({data:lo,borderWidth:0,borderColor:'rgba(0,0,0,0)',pointRadius:0,fill:'-1',backgroundColor:`rgba(${rgb},0.12)`,order:3});});
 new Chart(cv,{type:'line',data:{datasets:ds},options:{animation:false,responsive:true,maintainAspectRatio:false,events:[],
   layout:{padding:{top:padT,right:padR,left:0,bottom:0}},
   plugins:{legend:{display:false},tooltip:{enabled:false},filler:{propagate:false}},
   scales:{
    x:{type:'linear',min:0,max:119,afterBuildTicks:s=>{s.ticks=dayTicks.map(v=>({value:v}));},afterFit:s=>{s.height=xH;},
       ticks:{autoSkip:false,maxRotation:0,padding:2,font:{size:9.5},callback:v=>String(v)},
       grid:{drawOnChartArea:false,drawTicks:true,tickLength:3.5,color:'#000',lineWidth:0.8},border:{display:false}},
    y:{type:'linear',min:yMin,max:yMax,afterBuildTicks:s=>{s.ticks=yTicks.map(v=>({value:v}));},afterFit:s=>{s.width=yW;},
       ticks:{autoSkip:false,padding:4,font:{size:9.5},callback:v=>v.toFixed(1)},
       grid:{drawOnChartArea:false,drawTicks:true,tickLength:3.5,color:'#000',lineWidth:0.8},border:{display:false}}
   }},plugins:[rightFrame]});
 text('<i>δ</i><sub style="font-size:10px;vertical-align:-3px"><i>rr</i></sub>',462,plotTop+plotH/2,15,'r');
 codes.forEach((code,i)=>{const cy=plotTop+43+i*24.7;
  const s=document.createElement('div');s.className='sq';s.style.cssText=`left:1194px;top:${cy-5.5}px;background:${COL[code]}`;document.body.appendChild(s);
  text(names[code],1223,cy,12.5,'m');});
}

// left panels
leftChart('en',57,false);leftChart('fr',102,false);leftChart('de',148,false);leftChart('it',193,true);
leftChart('ja',260,false);leftChart('sv',306,false);leftChart('nl',351,false);leftChart('ko',397,true);
leftChart('sr',463,false);leftChart('no',509,false);leftChart('fi',555,false);leftChart('da',600,true);
// right panels
rightChart(57,-0.45,0.4,[-0.4,-0.2,0.0,0.2,0.4],['en','fr','de','it']);
rightChart(260,-0.5,0.6,[-0.4,-0.2,0.0,0.2,0.4,0.6],['ja','sv','nl','ko']);
rightChart(463,-1,1,[-1,-0.5,0,0.5,1],['sr','no','fi','da']);

// labels
text('Revert Rate',17,340,17.5,'r');
text('Large Wikipedias',57,138,13.5,'r');
text('Medium Wikipedias',57,341,13.5,'r');
text('Small Wikipedias',57,543,13.5,'r');
text('Date',275,664,14.5,'c');
text('Day after Mobility Changepoint',838,664,15,'c');
text('(a)',275,697,13.5,'c');
text('(b)',838,697,13.5,'c');
// legend texts
text('Mobility',207,15,12.5,'m');
text('Normality',317,15,12.5,'m');
text('2020',185,35,12.5,'m');
text('2019',277,35,12.5,'m');
text('2018',368,35,12.5,'m');
text('Significance (solid) or non-significance (dashed)',643,28,12.5,'m');
text('Normality',1057,28,12.5,'m');
</script>
<svg width="1331" height="50" style="position:absolute;left:0;top:0" xmlns="http://www.w3.org/2000/svg">
 <g stroke="#888" fill="none">
  <line x1="185" y1="7" x2="185" y2="23" stroke-width="2.2"/>
  <line x1="297" y1="7" x2="297" y2="24" stroke-width="2.6" stroke-dasharray="2.6,4"/>
  <line x1="148" y1="35" x2="175" y2="35" stroke-width="1.5"/>
  <line x1="243" y1="35" x2="266" y2="35" stroke-width="1.5" stroke-dasharray="5,3"/>
  <line x1="343" y1="35" x2="364" y2="35" stroke-width="1.5" stroke-dasharray="1.5,2.2"/>
  <line x1="558" y1="28" x2="590" y2="28" stroke-width="2"/>
  <line x1="602" y1="28" x2="631" y2="28" stroke-width="2" stroke-dasharray="6,4"/>
  <line x1="1013" y1="20" x2="1013" y2="37" stroke-width="2.6" stroke-dasharray="2.6,4"/>
 </g>
</svg>
</body></html>
